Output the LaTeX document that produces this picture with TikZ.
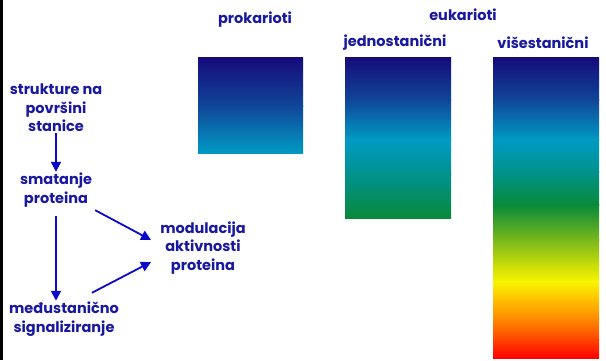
\documentclass[tikz,border=0pt]{standalone}
\usepackage{fontspec}
\setmainfont{Poppins}
\usetikzlibrary{arrows.meta}
\definecolor{txt}{RGB}{24,24,160}
\definecolor{arr}{RGB}{10,10,200}
\definecolor{navy}{RGB}{22,10,122}
\definecolor{midblue}{RGB}{16,70,152}
\definecolor{blue2}{RGB}{8,118,176}
\definecolor{cyanc}{RGB}{0,154,196}
\definecolor{teal}{RGB}{0,146,140}
\definecolor{greenc}{RGB}{8,138,58}
\definecolor{ygreen}{RGB}{120,184,28}
\definecolor{lime}{RGB}{200,220,8}
\definecolor{yel}{RGB}{248,244,0}
\definecolor{amber}{RGB}{255,192,0}
\definecolor{orng}{RGB}{255,136,0}
\definecolor{redor}{RGB}{255,68,0}
\definecolor{redc}{RGB}{255,0,0}
\newcommand{\gseg}[6]{\shade[top color=#5,bottom color=#6] (#1,#2) rectangle (#3,#4);}
\tikzset{
  lbl/.style={text=txt,font=\fontsize{14.5}{18.5}\selectfont\bfseries,align=center,inner sep=1pt},
  arrw/.style={draw=arr,line width=1.8pt,-{Triangle[length=10pt,width=10pt]}}
}
\begin{document}
\begin{tikzpicture}[x=1pt,y=-1pt]
\useasboundingbox (0,0) rectangle (606,360);
\fill[white] (0,0) rectangle (606,360);
\fill[black] (0,0) rectangle (2.5,360);
% prokarioti bar
\gseg{198}{57}{303}{106}{navy}{midblue}
\gseg{198}{105.5}{303}{153}{midblue}{cyanc}
% jednostanicni bar
\gseg{345}{57}{451}{100}{navy}{midblue}
\gseg{345}{99.5}{451}{140}{midblue}{cyanc}
\gseg{345}{139.5}{451}{175}{cyanc}{teal}
\gseg{345}{174.5}{451}{218}{teal}{greenc}
% visestanicni bar
\gseg{493}{57}{599}{100}{navy}{midblue}
\gseg{493}{99.5}{599}{140}{midblue}{cyanc}
\gseg{493}{139.5}{599}{172}{cyanc}{teal}
\gseg{493}{171.5}{599}{205}{teal}{greenc}
\gseg{493}{204.5}{599}{240}{greenc}{ygreen}
\gseg{493}{239.5}{599}{265}{ygreen}{lime}
\gseg{493}{264.5}{599}{282}{lime}{yel}
\gseg{493}{281.5}{599}{300}{yel}{amber}
\gseg{493}{299.5}{599}{320}{amber}{orng}
\gseg{493}{319.5}{599}{340}{orng}{redor}
\gseg{493}{339.5}{599}{358}{redor}{redc}
% titles
\node[lbl] (prok) at (255,20) {prokarioti};
\node[lbl] (euk) at (463,15) {eukarioti};
\node[lbl] (jed) at (395,43) {jednostanični};
\node[lbl] (vis) at (543,43) {višestanični};
% left diagram
\node[lbl] (s1) at (56,108) {strukture na\\površini\\stanice};
\node[lbl] (s2) at (56,190) {smatanje\\proteina};
\node[lbl] (s3) at (64,319) {međustanično\\signaliziranje};
\node[lbl] (s4) at (203,248) {modulacija\\aktivnosti\\proteina};
\draw[arrw] (s1.south) -- (s2.north);
\draw[arrw] ([yshift=-8pt]s2.south) -- (s2.south |- s3.north);
\draw[arrw] ([xshift=2pt,yshift=-2pt]s2.south east) -- ([xshift=-8pt,yshift=8pt]s4.west);
\draw[arrw] ([xshift=28pt,yshift=8pt]s3.north) -- ([xshift=-8pt,yshift=-14pt]s4.west);
\end{tikzpicture}
\end{document}
